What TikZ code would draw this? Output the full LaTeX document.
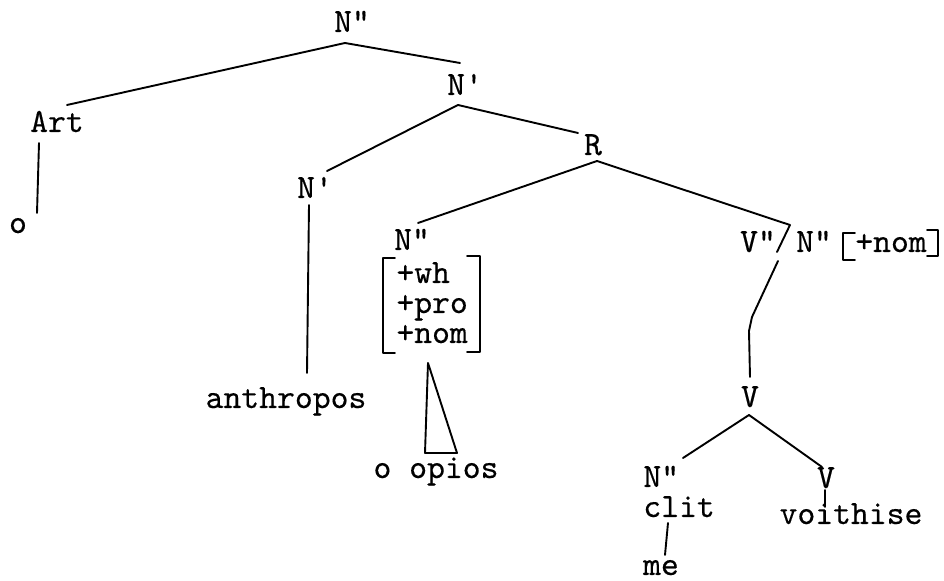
\documentclass[tikz,border=0pt]{standalone}
\usepackage{fontspec}
\newfontfamily\twfont[FakeBold=0.35]{lmmono10-regular.otf}
\begin{document}
\begin{tikzpicture}[x=0.5pt,y=-0.5pt,
  lbl/.style={font=\twfont\fontsize{17}{15}\selectfont, inner sep=0pt, anchor=base},
  lblw/.style={lbl, anchor=base west},
  edge/.style={line width=0.95pt, line cap=round, line join=round}]
\useasboundingbox (0,0) rectangle (944,581);
% labels
\node[lbl] (Ntop) at (352,32) {N"};
\node[lbl] (N1) at (465,95) {N'};
\node[lbl] (Art) at (57,132) {Art};
\node[lbl] (o1) at (18,233) {o};
\node[lbl] (N2) at (315,198) {N'};
\node[lbl] (R) at (593,155) {R};
\node[lbl] (Nmid) at (412,250) {N"};
\node[lblw, align=left] (feat) at (396,343) {+wh\\+pro\\+nom};
\node[lbl] (anth) at (286,408) {anthropos};
\node[lbl] (opios) at (436,478) {o opios};
\node[lbl] (Vpp) at (758,252) {V"};
\node[lbl] (Npp) at (814,252) {N"};
\node[lbl] (nom2) at (891,252) {+nom};
\node[lbl] (V) at (750,407) {V};
\node[lblw, align=left] (Ncl) at (643,517) {N"\\clit};
\node[lbl] (me) at (661,575) {me};
\node[lbl] (Vr) at (826,488) {V};
\node[lbl] (voith) at (851,524) {voithise};
% attachment points
\coordinate (Ntop-a) at (345,43);
\coordinate (Art-t) at (67,105);
\coordinate (N1-t) at (460,63);
\coordinate (N1-a) at (458,105);
\coordinate (N2-t) at (327,171);
\coordinate (R-t) at (578,133);
\coordinate (Art-b) at (39,143);
\coordinate (o1-t) at (37,213);
\coordinate (N2-b) at (309,205);
\coordinate (anth-t) at (307,373);
\coordinate (R-a) at (597,161);
\coordinate (Nmid-t) at (418,223);
\coordinate (sl-t) at (790,225);
\coordinate (sl-b) at (777,252);
\coordinate (Vpp-b) at (778,261);
\coordinate (k1) at (752,317);
\coordinate (k2) at (749,331);
\coordinate (V-t) at (750,377);
\coordinate (V-a) at (749,415);
\coordinate (Ncl-t) at (683,458);
\coordinate (Vr-t) at (822,467);
\coordinate (clit-b) at (668,523);
\coordinate (me-t) at (665,555);
\coordinate (Vr-b) at (825,490);
\coordinate (voith-t) at (825,507);
\coordinate (tri-a) at (428,363);
\coordinate (tri-l) at (425,453);
\coordinate (tri-r) at (457,453);
% edges
\draw[edge] (Art-t) -- (Ntop-a) -- (N1-t);
\draw[edge] (N2-t) -- (N1-a) -- (R-t);
\draw[edge] (Art-b) -- (o1-t);
\draw[edge] (N2-b) -- (anth-t);
\draw[edge] (Nmid-t) -- (R-a) -- (sl-t) -- (sl-b);
\draw[edge] (Vpp-b) -- (k1) -- (k2) -- (V-t);
\draw[edge] (Ncl-t) -- (V-a) -- (Vr-t);
\draw[edge] (clit-b) -- (me-t);
\draw[edge] (Vr-b) -- (voith-t);
\draw[edge] (tri-a) -- (tri-l) -- (tri-r) -- cycle;
% brackets
\draw[edge] (395,258) -- (383,258) -- (383,353) -- (395,353);
\draw[edge] (467,256) -- (480,256) -- (480,352) -- (467,352);
\draw[edge] (855,233) -- (843,233) -- (843,260) -- (855,260);
\draw[edge] (927,230) -- (938,230) -- (938,256) -- (927,256);
\end{tikzpicture}
\end{document}
